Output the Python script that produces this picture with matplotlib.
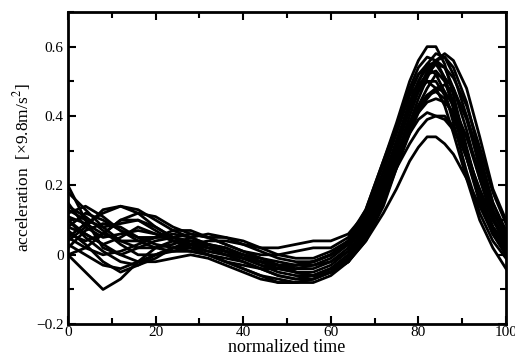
import matplotlib
matplotlib.use("Agg")
import matplotlib.pyplot as plt
from matplotlib.ticker import MultipleLocator

# sample positions (normalized time) shared by all curves
X = [0, 4, 8, 12, 16, 20, 24, 28, 32, 36, 40, 44, 48, 52, 56, 60,
     64, 68, 72, 75, 78, 80, 82, 84, 86, 88, 91, 94, 97, 100]

# acceleration curves [x9.8 m/s^2]
c01 = [0.10, 0.06, 0.03, 0.05, 0.08, 0.06, 0.04, 0.03, 0.01, 0.00, -0.01, -0.02, -0.03, -0.03, -0.02, 0.00,
       0.04, 0.13, 0.27, 0.38, 0.50, 0.56, 0.60, 0.60, 0.55, 0.46, 0.31, 0.17, 0.08, 0.03]
c02 = [0.05, 0.09, 0.12, 0.14, 0.13, 0.10, 0.07, 0.05, 0.03, 0.02, 0.00, -0.02, -0.04, -0.05, -0.05, -0.03,
       0.01, 0.08, 0.20, 0.31, 0.43, 0.50, 0.55, 0.58, 0.57, 0.52, 0.40, 0.25, 0.12, 0.06]
c03 = [0.20, 0.10, 0.02, 0.00, 0.02, 0.04, 0.05, 0.06, 0.05, 0.03, 0.01, -0.01, -0.03, -0.05, -0.06, -0.05,
       -0.01, 0.09, 0.24, 0.36, 0.48, 0.54, 0.57, 0.56, 0.51, 0.42, 0.28, 0.15, 0.06, 0.00]
c04 = [0.00, -0.05, -0.10, -0.07, -0.02, 0.02, 0.04, 0.04, 0.03, 0.01, -0.01, -0.03, -0.05, -0.06, -0.06, -0.04,
       0.00, 0.06, 0.17, 0.28, 0.40, 0.47, 0.53, 0.56, 0.57, 0.54, 0.44, 0.29, 0.15, 0.07]
c05 = [0.08, 0.12, 0.10, 0.07, 0.04, 0.02, 0.01, 0.02, 0.03, 0.02, 0.00, -0.02, -0.04, -0.04, -0.03, -0.01,
       0.03, 0.11, 0.24, 0.35, 0.46, 0.52, 0.55, 0.55, 0.51, 0.44, 0.30, 0.17, 0.07, 0.01]
c06 = [0.12, 0.14, 0.11, 0.07, 0.05, 0.05, 0.05, 0.04, 0.02, 0.00, -0.02, -0.04, -0.06, -0.07, -0.07, -0.05,
       -0.01, 0.07, 0.19, 0.30, 0.42, 0.48, 0.52, 0.55, 0.54, 0.51, 0.43, 0.31, 0.18, 0.09]
c07 = [0.03, 0.00, -0.03, -0.04, -0.02, 0.00, 0.02, 0.03, 0.04, 0.04, 0.03, 0.01, -0.01, -0.02, -0.02, 0.00,
       0.04, 0.12, 0.26, 0.37, 0.47, 0.52, 0.54, 0.52, 0.47, 0.38, 0.24, 0.12, 0.04, -0.01]
c08 = [0.15, 0.08, 0.05, 0.06, 0.07, 0.06, 0.04, 0.02, 0.00, -0.02, -0.04, -0.06, -0.08, -0.08, -0.07, -0.05,
       -0.02, 0.04, 0.14, 0.25, 0.36, 0.43, 0.48, 0.52, 0.51, 0.48, 0.39, 0.26, 0.13, 0.05]
c09 = [0.06, 0.04, 0.06, 0.10, 0.12, 0.11, 0.08, 0.06, 0.05, 0.05, 0.04, 0.02, 0.00, -0.01, -0.01, 0.01,
       0.04, 0.11, 0.22, 0.32, 0.42, 0.47, 0.50, 0.50, 0.46, 0.40, 0.28, 0.16, 0.07, 0.02]
c10 = [0.10, 0.05, 0.01, -0.02, -0.03, -0.01, 0.02, 0.04, 0.03, 0.01, -0.01, -0.03, -0.04, -0.05, -0.06, -0.05,
       -0.02, 0.05, 0.15, 0.25, 0.35, 0.41, 0.45, 0.48, 0.49, 0.47, 0.40, 0.28, 0.15, 0.06]
c11 = [0.02, 0.07, 0.09, 0.08, 0.05, 0.03, 0.02, 0.01, 0.00, -0.02, -0.04, -0.06, -0.07, -0.08, -0.08, -0.06,
       -0.02, 0.06, 0.18, 0.28, 0.38, 0.43, 0.46, 0.47, 0.45, 0.40, 0.30, 0.18, 0.08, 0.02]
c12 = [0.18, 0.13, 0.08, 0.04, 0.02, 0.02, 0.03, 0.05, 0.06, 0.05, 0.03, 0.02, 0.02, 0.03, 0.04, 0.04,
       0.06, 0.12, 0.21, 0.29, 0.37, 0.41, 0.44, 0.45, 0.44, 0.41, 0.34, 0.24, 0.13, 0.05]
c13 = [0.05, 0.02, 0.00, 0.01, 0.03, 0.05, 0.06, 0.05, 0.03, 0.01, -0.01, -0.02, -0.03, -0.04, -0.04, -0.02,
       0.02, 0.09, 0.19, 0.27, 0.35, 0.39, 0.41, 0.40, 0.40, 0.37, 0.28, 0.17, 0.08, 0.03]
c14 = [0.00, 0.02, 0.06, 0.10, 0.10, 0.07, 0.04, 0.02, 0.01, 0.00, -0.01, -0.02, -0.03, -0.03, -0.02, 0.00,
       0.03, 0.09, 0.18, 0.25, 0.32, 0.36, 0.39, 0.40, 0.39, 0.36, 0.29, 0.19, 0.10, 0.04]
c15 = [0.08, 0.06, 0.03, 0.00, -0.02, -0.02, -0.01, 0.00, -0.01, -0.03, -0.05, -0.07, -0.08, -0.08, -0.07, -0.05,
       -0.02, 0.04, 0.12, 0.19, 0.27, 0.31, 0.34, 0.34, 0.32, 0.29, 0.22, 0.14, 0.06, 0.01]
c16 = [0.13, 0.10, 0.08, 0.09, 0.10, 0.08, 0.05, 0.03, 0.02, 0.01, 0.00, -0.01, -0.02, -0.03, -0.03, -0.02,
       0.01, 0.06, 0.16, 0.26, 0.38, 0.45, 0.51, 0.56, 0.58, 0.56, 0.48, 0.34, 0.19, 0.10]
c17 = [0.04, 0.08, 0.13, 0.14, 0.12, 0.08, 0.05, 0.03, 0.02, 0.01, 0.00, -0.01, -0.03, -0.05, -0.06, -0.04,
       0.00, 0.08, 0.21, 0.32, 0.44, 0.49, 0.52, 0.53, 0.50, 0.43, 0.30, 0.16, 0.06, 0.00]
c18 = [0.07, 0.03, -0.02, -0.05, -0.03, 0.00, 0.02, 0.02, 0.00, -0.02, -0.03, -0.04, -0.04, -0.03, -0.02, 0.00,
       0.03, 0.10, 0.22, 0.33, 0.44, 0.50, 0.54, 0.56, 0.54, 0.48, 0.36, 0.22, 0.10, 0.03]
c19 = [0.11, 0.09, 0.06, 0.04, 0.04, 0.05, 0.07, 0.07, 0.05, 0.03, 0.01, 0.00, 0.00, 0.01, 0.02, 0.02,
       0.05, 0.13, 0.27, 0.37, 0.46, 0.49, 0.50, 0.48, 0.43, 0.35, 0.22, 0.10, 0.02, -0.04]
c20 = [0.14, 0.11, 0.07, 0.03, 0.00, 0.00, 0.01, 0.01, 0.00, -0.01, -0.02, -0.04, -0.06, -0.07, -0.06, -0.04,
       -0.01, 0.06, 0.17, 0.27, 0.37, 0.42, 0.46, 0.48, 0.47, 0.43, 0.34, 0.22, 0.11, 0.04]

CURVES = [c01, c02, c03, c04, c05, c06, c07, c08, c09, c10,
          c11, c12, c13, c14, c15, c16, c17, c18, c19, c20]

plt.rcParams["font.family"] = ["Liberation Serif", "DejaVu Serif"]
plt.rcParams["mathtext.fontset"] = "stix"

fig = plt.figure(figsize=(5.15, 3.63), dpi=100)
ax = fig.add_axes([0.132, 0.107, 0.8505, 0.86])

for c in CURVES:
    ax.plot(X, c, color="black", linewidth=2.0, solid_joinstyle="round")

ax.set_xlim(0, 100)
ax.set_ylim(-0.2, 0.7)
ax.xaxis.set_major_locator(MultipleLocator(20))
ax.xaxis.set_minor_locator(MultipleLocator(10))
ax.yaxis.set_major_locator(MultipleLocator(0.2))
ax.yaxis.set_minor_locator(MultipleLocator(0.1))
ax.set_yticks([-0.2, 0, 0.2, 0.4, 0.6])
ax.set_yticklabels(["\u22120.2", "0", "0.2", "0.4", "0.6"])

ax.tick_params(which="both", direction="in", top=True, right=True,
               labelsize=11, width=1.5)
ax.tick_params(which="major", length=6)
ax.tick_params(which="minor", length=4)
ax.tick_params(axis="x", pad=1)
ax.tick_params(axis="y", pad=3)
for s in ax.spines.values():
    s.set_linewidth(2)

ax.set_xlabel("normalized time", fontsize=13, labelpad=0)
ax.set_ylabel("acceleration  [\u00d79.8m/s$^2$]", fontsize=12.5, labelpad=2)

fig.savefig("out.png", dpi=100)
